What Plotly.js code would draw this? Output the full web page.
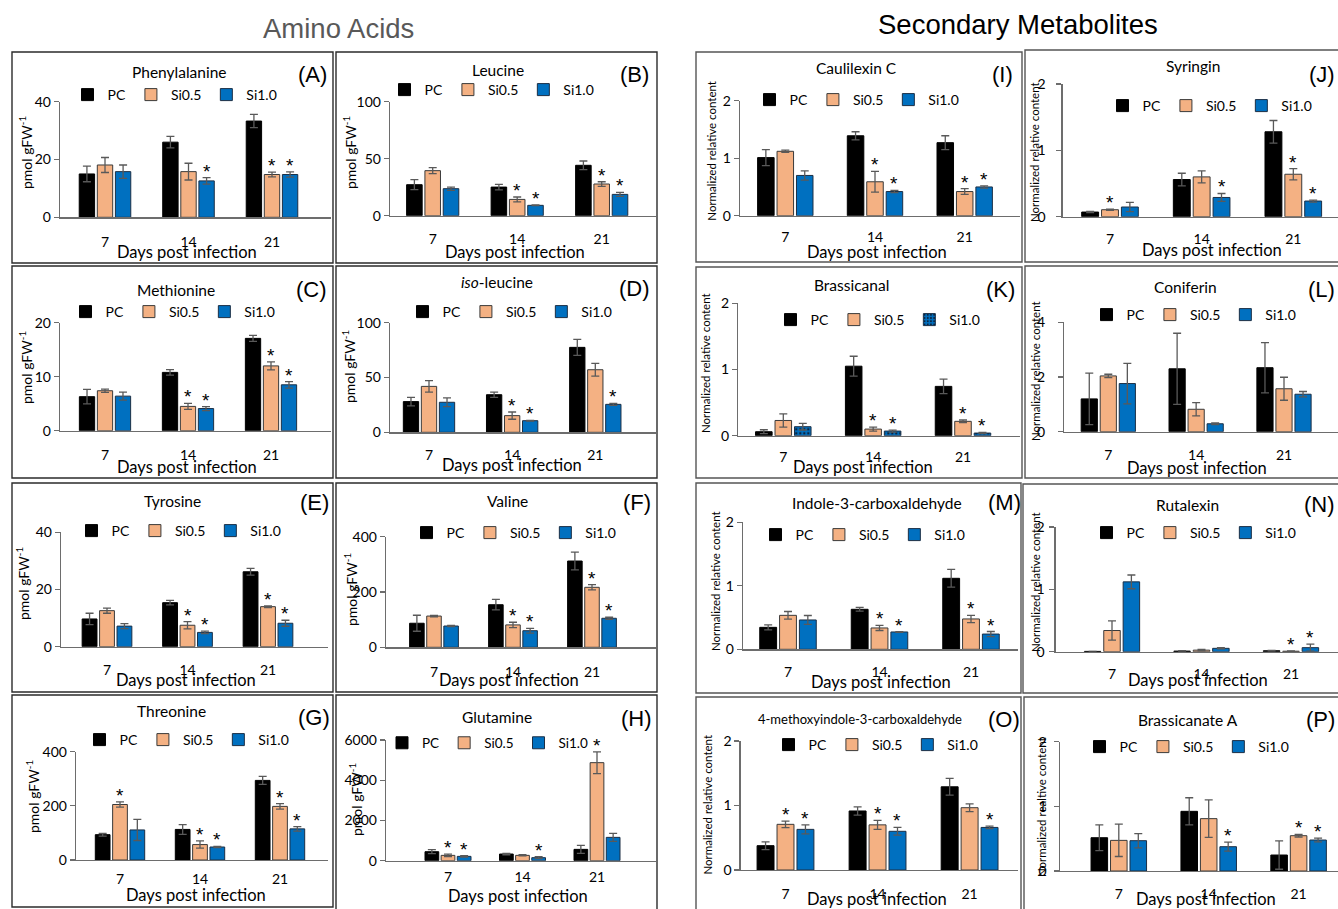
<!DOCTYPE html>
<html><head><meta charset="utf-8">
<script src="https://cdn.plot.ly/plotly-3.0.1.min.js"></script>
<style>html,body{margin:0;padding:0;background:#fff}#chart{width:1338px;height:909px}</style>
</head><body><div id="chart"></div>
<script>
// ---------- DATA ----------
const days = ['7','14','21'];
const seriesNames = ['PC','Si0.5','Si1.0'];
// rows: PC, Si0.5, Si1.0 ; columns: 7, 14, 21 days post infection
const pheMean = [[15.0,26.0,33.3],[18.1,15.8,14.8],[15.8,12.6,14.8]];
const pheErr  = [[2.7,2.0,2.3],[2.6,2.9,0.8],[2.3,1.1,0.9]];
const pheSig  = [[0,0,0],[0,0,1],[0,1,1]];
const leuMean = [[27.2,25.1,44.2],[39.5,14.3,27.8],[23.7,9.1,18.7]];
const leuErr  = [[4.4,2.4,3.8],[2.6,2.1,2.0],[1.4,0.3,1.8]];
const leuSig  = [[0,0,0],[0,1,1],[0,1,1]];
const metMean = [[6.3,10.8,17.1],[7.4,4.5,12.0],[6.4,4.1,8.5]];
const metErr  = [[1.35,0.5,0.55],[0.3,0.55,0.75],[0.75,0.37,0.6]];
const metSig  = [[0,0,0],[0,1,1],[0,1,1]];
const ileMean = [[28.0,34.3,77.5],[41.9,15.2,57.1],[27.4,10.6,25.5]];
const ileErr  = [[3.9,2.4,7.3],[5.2,3.3,5.8],[4.0,0.3,0.9]];
const ileSig  = [[0,0,0],[0,1,0],[0,1,1]];
const tyrMean = [[9.7,15.4,26.2],[12.6,7.5,14.0],[7.2,5.0,8.2]];
const tyrErr  = [[2.0,0.8,1.2],[0.9,1.3,0.3],[0.9,0.45,1.05]];
const tyrSig  = [[0,0,0],[0,1,1],[0,1,1]];
const valMean = [[87,154,312],[113,81,217],[77,60,105]];
const valErr  = [[29,19,32],[2.5,9.6,9.6],[2,8.4,3.6]];
const valSig  = [[0,0,0],[0,1,1],[0,1,1]];
const thrMean = [[93.5,113,294],[205,57,198],[111,48,115]];
const thrErr  = [[5,18,15],[10,13.5,10],[39,2.5,8.6]];
const thrSig  = [[0,0,0],[1,1,1],[0,1,1]];
const glnMean = [[447,331,563],[265,265,4873],[215,150,1160]];
const glnErr  = [[100,35,200],[60,30,540],[30,50,200]];
const glnSig  = [[0,0,0],[1,0,1],[1,1,0]];
const cauMean = [[1.01,1.39,1.27],[1.12,0.59,0.42],[0.70,0.42,0.50]];
const cauErr  = [[0.14,0.07,0.12],[0.02,0.18,0.05],[0.08,0.02,0.02]];
const cauSig  = [[0,0,0],[0,1,1],[0,1,1]];
const syrMean = [[0.07,0.56,1.28],[0.105,0.60,0.64],[0.146,0.29,0.236]];
const syrErr  = [[0.01,0.095,0.17],[0.01,0.09,0.085],[0.07,0.06,0.015]];
const syrSig  = [[0,0,0],[1,0,1],[0,1,1]];
const brsMean = [[0.06,1.05,0.745],[0.23,0.10,0.217],[0.136,0.07,0.04]];
const brsErr  = [[0.03,0.15,0.11],[0.1,0.03,0.02],[0.05,0.015,0.01]];
const brsSig  = [[0,0,0],[0,1,1],[0,1,1]];
const conMean = [[1.2,2.3,2.34],[2.04,0.82,1.57],[1.76,0.29,1.37]];
const conErr  = [[0.94,1.3,0.92],[0.06,0.24,0.42],[0.74,0.03,0.1]];
const conSig  = [[0,0,0],[0,0,0],[0,0,0]];
const indMean = [[0.346,0.63,1.118],[0.535,0.336,0.478],[0.462,0.273,0.24]];
const indErr  = [[0.04,0.03,0.14],[0.06,0.04,0.057],[0.07,0.005,0.04]];
const indSig  = [[0,0,0],[0,1,1],[0,1,1]];
const rutMean = [[0.005,0.01,0.015],[0.34,0.025,0.008],[1.12,0.054,0.065]];
const rutErr  = [[0,0.005,0.005],[0.155,0.01,0.003],[0.11,0.01,0.055]];
const rutSig  = [[0,0,0],[0,0,1],[0,0,1]];
const micMean = [[0.377,0.915,1.29],[0.708,0.70,0.966],[0.63,0.60,0.66]];
const micErr  = [[0.06,0.065,0.13],[0.05,0.07,0.06],[0.07,0.06,0.02]];
const micSig  = [[0,0,0],[1,1,0],[1,1,1]];
const bcaMean = [[0.515,0.923,0.247],[0.474,0.81,0.546],[0.469,0.376,0.479]];
const bcaErr  = [[0.2,0.21,0.22],[0.25,0.29,0.02],[0.11,0.07,0.03]];
const bcaSig  = [[0,0,0],[0,0,1],[0,1,1]];

const unitAA = 'pmol gFW<sup>-1</sup>';
const unitNR = 'Normalized relative content';
const unitNR2 = 'Normalized realtive content';

const panels = [
 {id:'A', title:'Phenylalanine', mean:pheMean, err:pheErr, sig:pheSig, ymax:40, dtick:20, ylab:unitAA},
 {id:'B', title:'Leucine', mean:leuMean, err:leuErr, sig:leuSig, ymax:100, dtick:50, ylab:unitAA},
 {id:'C', title:'Methionine', mean:metMean, err:metErr, sig:metSig, ymax:20, dtick:10, ylab:unitAA},
 {id:'D', title:'<i>iso</i>-leucine', mean:ileMean, err:ileErr, sig:ileSig, ymax:100, dtick:50, ylab:unitAA},
 {id:'E', title:'Tyrosine', mean:tyrMean, err:tyrErr, sig:tyrSig, ymax:40, dtick:20, ylab:unitAA},
 {id:'F', title:'Valine', mean:valMean, err:valErr, sig:valSig, ymax:400, dtick:200, ylab:unitAA},
 {id:'G', title:'Threonine', mean:thrMean, err:thrErr, sig:thrSig, ymax:400, dtick:200, ylab:unitAA},
 {id:'H', title:'Glutamine', mean:glnMean, err:glnErr, sig:glnSig, ymax:6000, dtick:2000, ylab:unitAA},
 {id:'I', title:'Caulilexin C', mean:cauMean, err:cauErr, sig:cauSig, ymax:2, dtick:1, ylab:unitNR},
 {id:'J', title:'Syringin', mean:syrMean, err:syrErr, sig:syrSig, ymax:2, dtick:1, ylab:unitNR},
 {id:'K', title:'Brassicanal', mean:brsMean, err:brsErr, sig:brsSig, ymax:2, dtick:1, ylab:unitNR},
 {id:'L', title:'Coniferin', mean:conMean, err:conErr, sig:conSig, ymax:4, dtick:2, ylab:unitNR},
 {id:'M', title:'Indole-3-carboxaldehyde', mean:indMean, err:indErr, sig:indSig, ymax:2, dtick:1, ylab:unitNR},
 {id:'N', title:'Rutalexin', mean:rutMean, err:rutErr, sig:rutSig, ymax:2, dtick:1, ylab:unitNR},
 {id:'O', title:'4-methoxyindole-3-carboxaldehyde', mean:micMean, err:micErr, sig:micSig, ymax:2, dtick:1, ylab:unitNR},
 {id:'P', title:'Brassicanate A', mean:bcaMean, err:bcaErr, sig:bcaSig, ymax:2, dtick:1, ylab:unitNR2}
];

// ---------- LAYOUT GEOMETRY (pixels) ----------
const geo = {
 A:{ax:60,ae:331,y0:217.3,yt:101.7,c0:105,c2:272, t:[179,71.7], l:[312,74], g:[175,95], yl:[26,152], xl:[187,252], xs:12, ys:0, box:[12,52,333,263]},
 B:{ax:390,ae:656,y0:215.7,yt:101.7,c0:432.7,c2:601.7, t:[498,70], l:[634,74], g:[492,90], yl:[349,153], xl:[515,252], xs:10, ys:0, box:[336,52,657,263]},
 C:{ax:60,ae:331,y0:430.7,yt:322.7,c0:105,c2:271, t:[176,290], l:[311,289], g:[173,312], yl:[26,367], xl:[187,467], xs:11, ys:0, box:[12,266,333,478]},
 D:{ax:390,ae:656,y0:432.3,yt:322.7,c0:429,c2:595.3, t:[497,282], l:[634,288], g:[510,312], yl:[349,367], xl:[512,465], xs:10, ys:0, box:[336,266,657,478]},
 E:{ax:61,ae:328,y0:646.7,yt:532.3,c0:107,c2:268, t:[172.6,500.7], l:[314,502], g:[179,531], yl:[22,584], xl:[186,680], xs:10, ys:0, box:[12,483,333,692]},
 F:{ax:386,ae:656,y0:647.3,yt:536.7,c0:434,c2:592, t:[507,500.7], l:[637,502], g:[514,533], yl:[350,590], xl:[509,680], xs:12, ys:0, box:[336,483,657,692]},
 G:{ax:76,ae:328,y0:860,yt:751.7,c0:120,c2:280, t:[171.8,711], l:[314,717], g:[187,740], yl:[32,797], xl:[196,895], xs:6, ys:0, box:[12,695,333,907]},
 H:{ax:386,ae:656,y0:860.7,yt:740,c0:448,c2:597, t:[496.6,716.7], l:[636,718], g:[488,743], yl:[355,800], xl:[518,896], xs:3, ys:0, box:[336,695,657,912], lfs:13.5},
 I:{ax:740,ae:1020,y0:215.7,yt:100.7,c0:785.3,c2:964.7, t:[856.7,68], l:[1002,74], g:[857,100], yl:[711.7,151], xl:[877,252], xs:8, ys:0, box:[696,52,1022,262]},
 J:{ax:1062.7,ae:1338,y0:216.7,yt:84,c0:1110,c2:1293.3, t:[1193,66], l:[1337,74,'right'], g:[1210,106], yl:[1035,152], xl:[1212,250], xs:9, ys:8, box:[1025,50,1345,262]},
 K:{ax:738.3,ae:1020,y0:435.7,yt:303.3,c0:783.3,c2:963, t:[852,285], l:[1000,289], g:[878,320], yl:[705,363], xl:[863,467], xs:8, ys:0, box:[696,267,1022,478]},
 L:{ax:1064.3,ae:1338,y0:431.7,yt:322.3,c0:1108.3,c2:1284, t:[1185,286.7], l:[1337,289,'right'], g:[1194,315], yl:[1035,371], xl:[1197,468], xs:10, ys:10, box:[1025,266,1345,478]},
 M:{ax:743,ae:1018,y0:649.3,yt:522.3,c0:788,c2:971, t:[877,503], l:[1004,503], g:[863,535], yl:[715,581], xl:[881,682], xs:10, ys:0, box:[696,483,1021,693]},
 N:{ax:1055.6,ae:1338,y0:651.7,yt:527,c0:1112,c2:1291, t:[1187,505], l:[1337,504,'right'], g:[1194,533], yl:[1035,582], xl:[1198,680], xs:9, ys:2, box:[1023,484,1345,693]},
 O:{ax:740.7,ae:1018,y0:870,yt:741,c0:785.5,c2:969.6, t:[860,719], l:[1004,719], g:[876,745], yl:[706.6,805], xl:[877,899], xs:11, ys:0, box:[696,697,1021,912], tfs:13},
 P:{ax:1059.8,ae:1338,y0:871,yt:741.7,c0:1118.8,c2:1298.6, t:[1188,720], l:[1337,719,'right'], g:[1187,747], yl:[1041,807], xl:[1206,899], xs:10, ys:4, box:[1024,697,1345,912]}
};

const W = 1338, H = 909;
const X = v => v / W, Y = v => 1 - v / H;
const FONT = 'Lato, "Open Sans", sans-serif';
const ARIAL = '"Liberation Sans", Arial, sans-serif';
const AXC = '#6d6d6d';
const barColors = ['#000000', '#F4B183', '#0070C0'];
const barLines = ['#000000', '#3a3a3a', '#1c2f45'];
const BARGAP = 0.35, GROUPGAP = 0.15;

const traces = [], annotations = [], shapes = [];
const layout = {
  width: W, height: H, margin: {l:0, r:0, t:0, b:0},
  paper_bgcolor: '#fff', plot_bgcolor: 'rgba(0,0,0,0)',
  barmode: 'group', bargap: BARGAP, bargroupgap: GROUPGAP,
  font: {family: FONT, color: '#000'},
  showlegend: true, hovermode: false
};

panels.forEach((p, i) => {
  const g = geo[p.id];
  const n = i + 1, sfx = n === 1 ? '' : String(n);
  const s = (g.c2 - g.c0) / 2;
  layout['xaxis' + sfx] = {
    domain: [X(g.ax), X(g.ae)], anchor: 'y' + sfx, type: 'category',
    categoryorder: 'array', categoryarray: days,
    range: [-(g.c0 - g.ax) / s, 2 + (g.ae - g.c2) / s],
    showline: true, linecolor: AXC, linewidth: 1.3, ticks: '',
    tickfont: {family: FONT, size: 14, color: '#000'}, ticklabelstandoff: g.xs,
    showgrid: false, zeroline: false, fixedrange: true
  };
  layout['yaxis' + sfx] = {
    domain: [Y(g.y0), Y(g.yt)], anchor: 'x' + sfx, range: [0, p.ymax],
    tick0: 0, dtick: p.dtick, showline: true, linecolor: AXC, linewidth: 1.3,
    ticks: 'outside', ticklen: 5, tickwidth: 1.3, tickcolor: AXC,
    tickfont: {family: FONT, size: 14, color: '#000'}, ticklabelstandoff: g.ys,
    showgrid: false, zeroline: false, fixedrange: true
  };
  const leg = n === 1 ? 'legend' : 'legend' + n;
  layout[leg] = {
    x: X(g.g[0]), y: Y(g.g[1]), xanchor: 'center', yanchor: 'middle',
    orientation: 'h', bgcolor: 'rgba(0,0,0,0)', borderwidth: 0,
    font: {family: FONT, size: g.lfs || 14, color: '#000'}, traceorder: 'normal',
    itemclick: false, itemdoubleclick: false
  };
  seriesNames.forEach((nm, j) => {
    const marker = {color: barColors[j], line: {color: barLines[j], width: 1}};
    if (p.id === 'K' && j === 2) marker.pattern = {shape: '.', fgcolor: '#0b2542', bgcolor: '#0070C0', size: 4, solidity: 0.3};
    traces.push({
      type: 'bar', name: nm, x: days, y: p.mean[j],
      xaxis: 'x' + sfx, yaxis: 'y' + sfx, legend: leg,
      marker: marker,
      error_y: {type: 'data', array: p.err[j], visible: true, color: '#595959', thickness: 1.3, width: 4},
      hoverinfo: 'skip'
    });
    const slot = (1 - BARGAP) / 3;
    p.sig[j].forEach((f, k) => {
      if (!f) return;
      annotations.push({
        xref: 'x' + sfx, yref: 'y' + sfx, x: k + (j - 1) * slot, y: p.mean[j][k] + p.err[j][k],
        text: '*', showarrow: false, yanchor: 'bottom', xanchor: 'center', yshift: -6,
        font: {family: ARIAL, size: 19, color: '#000'}
      });
    });
  });
  annotations.push({xref:'paper', yref:'paper', x:X(g.t[0]), y:Y(g.t[1]), text:p.title, showarrow:false,
    xanchor:'center', yanchor:'middle', font:{family:FONT, size:g.tfs || 15.5, color:'#000'}});
  annotations.push({xref:'paper', yref:'paper', x:X(g.l[0]), y:Y(g.l[1]), text:'(' + p.id + ')', showarrow:false,
    xanchor:g.l[2] || 'center', yanchor:'middle', font:{family:ARIAL, size:22, color:'#000'}});
  const isAA = p.ylab === unitAA;
  annotations.push({xref:'paper', yref:'paper', x:X(g.yl[0]), y:Y(g.yl[1]), text:p.ylab, showarrow:false, textangle:-90,
    xanchor:'center', yanchor:'middle', font:{family:FONT, size:isAA ? 14 : 11.5, color:'#000'}});
  annotations.push({xref:'paper', yref:'paper', x:X(g.xl[0]), y:Y(g.xl[1]), text:'Days post infection', showarrow:false,
    xanchor:'center', yanchor:'middle', font:{family:FONT, size:16.5, color:'#000'}});
  shapes.push({type:'rect', xref:'paper', yref:'paper', x0:X(g.box[0]), x1:X(g.box[2]), y0:Y(g.box[3]), y1:Y(g.box[1]),
    line:{color: isAA ? '#2b2b2b' : '#555555', width:1.4}, fillcolor:'rgba(0,0,0,0)', layer:'below'});
});

annotations.push({xref:'paper', yref:'paper', x:X(338), y:Y(28), text:'Amino Acids', showarrow:false,
  xanchor:'center', yanchor:'middle', font:{family:ARIAL, size:27.5, color:'#595959'}});
annotations.push({xref:'paper', yref:'paper', x:X(1018), y:Y(25), text:'Secondary Metabolites', showarrow:false,
  xanchor:'center', yanchor:'middle', font:{family:ARIAL, size:27.5, color:'#000'}});

layout.annotations = annotations;
layout.shapes = shapes;

Plotly.newPlot('chart', traces, layout, {displayModeBar: false, staticPlot: true});
</script>
</body></html>
